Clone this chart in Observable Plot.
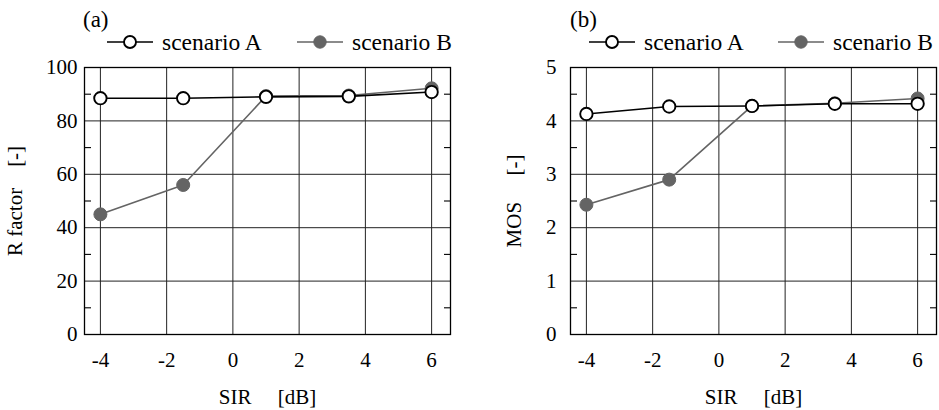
<!DOCTYPE html>
<html><head><meta charset="utf-8">
<script src="https://cdn.jsdelivr.net/npm/d3@7"></script>
<script src="https://cdn.jsdelivr.net/npm/@observablehq/plot@0.6"></script>
<style>
body{margin:0;background:#fff;}
#fig{position:relative;width:939px;height:410px;font-family:"Liberation Serif","Tinos","Times New Roman","DejaVu Serif",serif;color:#000;overflow:hidden;}
.panel{position:absolute;top:0;height:410px;}
.tag{position:absolute;font-size:23px;line-height:26px;}
.leg{position:absolute;font-size:23.5px;line-height:26px;height:26px;display:flex;align-items:center;white-space:nowrap;}
.leg svg{display:block;margin-right:9px;}
</style></head><body><div id="fig"></div>
<script>
// ---- data ----
const sir = [-4, -1.5, 1, 3.5, 6];
const seriesNames = ["scenario A", "scenario B"];
const rFactorA = [88.5, 88.5, 89.0, 89.2, 90.8];
const rFactorB = [45.0, 56.0, 89.3, 89.5, 92.2];
const mosA = [4.13, 4.27, 4.28, 4.32, 4.32];
const mosB = [2.43, 2.90, 4.28, 4.33, 4.42];
const xTicks = [-4, -2, 0, 2, 4, 6];
const rTicks = [0, 20, 40, 60, 80, 100];
const rMinor = [10, 30, 50, 70, 90];
const mosTicks = [0, 1, 2, 3, 4, 5];
const mosMinor = [0.5, 1.5, 2.5, 3.5, 4.5];

const FONT = '"Liberation Serif","Tinos","Times New Roman","DejaVu Serif",serif';
const colA = "#000", colB = "#646464";
const fig = document.getElementById("fig");
const sp = n => "\u00a0".repeat(n);

function rows(vals) { return sir.map((x, i) => ({x, y: vals[i]})); }

function panel({left, width, mLeft, mRight, yMax, yTicks, yMinor, yLabel, labelOff, tickPad, A, B, tag, legA, legB}) {
  const div = document.createElement("div");
  div.className = "panel";
  div.style.left = left + "px";
  div.style.width = width + "px";
  const chart = Plot.plot({
    width, height: 410,
    marginTop: 67, marginBottom: 76, marginLeft: mLeft, marginRight: mRight,
    style: {fontFamily: FONT, fontSize: "21px", color: "#000", background: "transparent", overflow: "visible"},
    x: {domain: [-4.48, 6.57]},
    y: {domain: [0, yMax]},
    marks: [
      Plot.gridX(xTicks, {stroke: "#222", strokeOpacity: 1, strokeWidth: 1}),
      Plot.gridY(yTicks, {stroke: "#222", strokeOpacity: 1, strokeWidth: 1}),
      Plot.axisY(yMinor, {anchor: "left", tickSize: 7, dx: 7, strokeWidth: 1.1, stroke: "#000", tickFormat: () => "", label: null}),
      Plot.axisY(yMinor, {anchor: "right", tickSize: 7, dx: -7, strokeWidth: 1.1, stroke: "#000", tickFormat: () => "", label: null}),
      Plot.axisX(xTicks, {tickSize: 0, tickPadding: 18, tickFormat: d => String(d), label: "SIR" + sp(5) + "[dB]", labelAnchor: "center", labelArrow: "none", labelOffset: 69}),
      Plot.axisY(yTicks, {tickSize: 0, tickPadding: tickPad, tickFormat: d => String(d), label: yLabel, labelAnchor: "center", labelArrow: "none", labelOffset: labelOff}),
      Plot.frame({stroke: "#000", strokeWidth: 1.3}),
      Plot.line(rows(B), {x: "x", y: "y", stroke: colB, strokeWidth: 1.6}),
      Plot.dot(rows(B), {x: "x", y: "y", r: 6.5, fill: colB, stroke: colB, strokeWidth: 1}),
      Plot.line(rows(A), {x: "x", y: "y", stroke: colA, strokeWidth: 1.6}),
      Plot.dot(rows(A), {x: "x", y: "y", r: 6.2, fill: "#fff", stroke: colA, strokeWidth: 1.9})
    ]
  });
  div.appendChild(chart);
  fig.appendChild(div);

  const t = document.createElement("div");
  t.className = "tag";
  t.style.left = (left + tag.left) + "px"; t.style.top = "7px";
  t.textContent = tag.text;
  fig.appendChild(t);

  [[legA, seriesNames[0], true], [legB, seriesNames[1], false]].forEach(([lx, name, open]) => {
    const l = document.createElement("div");
    l.className = "leg";
    l.style.left = (left + lx) + "px"; l.style.top = "29px";
    const c = open ? colA : colB;
    l.innerHTML = `<svg width="46" height="26"><line x1="0" y1="13" x2="46" y2="13" stroke="${c}" stroke-width="1.6"/>` +
      `<circle cx="23" cy="13" r="${open ? 6 : 6.2}" fill="${open ? "#fff" : c}" stroke="${c}" stroke-width="${open ? 1.9 : 1}"/></svg><span>${name}</span>`;
    fig.appendChild(l);
  });
}

panel({left: 0, width: 470, mLeft: 84, mRight: 20, yMax: 100, yTicks: rTicks, yMinor: rMinor,
  yLabel: "R factor" + sp(4) + "[-]", labelOff: 77, tickPad: 7, A: rFactorA, B: rFactorB,
  tag: {left: 83, text: "(a)"}, legA: 107, legB: 297});
panel({left: 470, width: 469, mLeft: 100, mRight: 3, yMax: 5, yTicks: mosTicks, yMinor: mosMinor,
  yLabel: "MOS" + sp(5) + "[-]", labelOff: 64, tickPad: 14, A: mosA, B: mosB,
  tag: {left: 100, text: "(b)"}, legA: 119, legB: 308});
</script></body></html>
